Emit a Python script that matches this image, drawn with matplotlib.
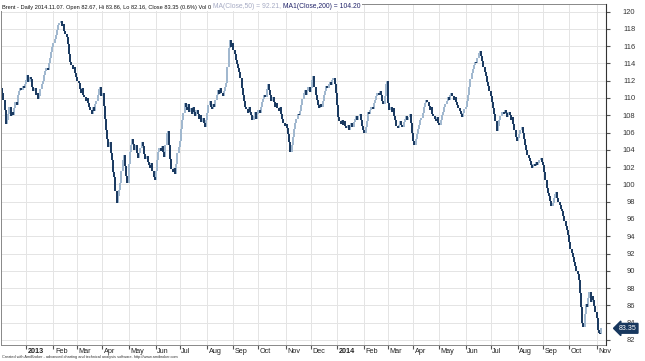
import numpy as np
import pandas as pd
import matplotlib
matplotlib.use("Agg")
import matplotlib.pyplot as plt

# daily closes, Dec 3 2012 - Dec 27 2013 (one row per week)
close_part1 = [
    111.2, 110.6, 109.8, 108.6, 107.0,
    107.4, 108.2, 108.9, 107.9, 108.4,
    108.0, 108.8, 109.5, 109.2, 110.3,
    110.8, 111.2, 110.9, 111.4, 111.1,
    111.6, 112.1, 112.6, 111.8, 112.4,
    112.2, 111.3, 110.8, 111.1, 110.4,
    110.6, 109.9, 110.2, 111.0, 111.6,
    112.0, 112.6, 113.1, 113.5, 113.2,
    114.0, 114.6, 115.3, 115.9, 116.4,
    116.8, 117.3, 117.9, 118.4, 118.7,
    118.9, 118.3, 118.6, 117.8, 117.4,
    117.0, 116.2, 115.1, 114.2, 113.8,
    113.3, 113.6, 112.9, 112.4, 112.0,
    111.7, 111.0, 110.6, 111.2, 110.4,
    110.1, 109.6, 110.0, 109.4, 108.9,
    108.6, 108.2, 109.0, 108.5, 109.3,
    109.7, 110.4, 111.0, 111.3, 110.2,
    110.6, 109.1, 107.6, 106.3, 105.2,
    104.3, 104.9, 103.6, 102.8, 101.4,
    100.8, 99.2, 97.8, 98.6, 99.4,
    100.2, 101.6, 102.8, 103.4, 102.1,
    101.0, 100.2, 102.4, 103.8, 104.6,
    105.2, 104.7, 104.0, 104.5, 103.6,
    103.1, 103.6, 104.2, 104.9, 104.4,
    103.5, 102.9, 103.3, 102.6, 102.2,
    101.9, 102.5, 101.6, 100.8, 100.5,
    101.6, 102.8, 103.7, 104.2, 103.9,
    104.4, 103.8, 103.2, 104.5, 105.9,
    106.2, 104.6, 102.9, 101.8, 101.4,
    101.9, 101.2, 102.4, 103.6, 104.3,
    105.0, 106.4, 107.5, 108.3, 109.4,
    109.0, 108.6, 109.3, 108.4, 108.8,
    108.2, 108.9, 108.4, 107.9, 108.6,
    108.1, 107.6, 108.0, 107.2, 107.7,
    107.1, 106.6, 107.4, 108.3, 109.2,
    109.6, 109.0, 108.7, 109.3, 108.9,
    109.8, 110.4, 110.9, 110.5, 111.1,
    110.6, 110.2, 110.8, 111.3, 111.7,
    113.6, 115.8, 116.7, 115.9, 116.4,
    115.6, 115.1, 114.4, 113.9, 113.5,
    113.0, 112.3, 111.2, 110.4, 109.6,
    109.0, 108.7, 108.3, 108.9, 108.4,
    108.0, 107.5, 107.9, 108.4, 107.6,
    108.1, 108.6, 108.3, 109.0, 109.5,
    109.9, 110.4, 110.1, 111.0, 111.6,
    110.9, 110.3, 109.7, 110.1, 109.5,
    109.0, 109.4, 108.8, 108.5, 108.9,
    108.2, 107.6, 107.1, 106.7, 107.0,
    106.5, 105.8, 104.9, 103.8, 104.6,
    105.5, 106.4, 107.1, 107.6, 108.2,
    108.0, 108.5, 109.2, 109.9, 110.6,
    110.9, 110.4, 110.8, 111.3, 110.7,
    111.2, 112.1, 112.5, 111.3, 110.4,
    109.8, 109.2, 108.8, 109.3, 108.9,
    109.6, 110.3, 110.8, 111.4, 111.1,
    111.6, 111.9, 111.5, 112.1, 112.3,
]

# daily closes, Dec 30 2013 - Nov 7 2014
close_part2 = [
    111.6, 110.6, 109.2, 107.8, 107.3,
    107.0, 107.4, 106.9, 107.3, 106.8,
    106.5, 106.9, 106.3, 106.7, 107.1,
    106.6, 107.2, 107.6, 107.9, 107.5,
    107.9, 108.2, 107.5, 106.8, 106.3,
    105.9, 106.6, 107.3, 108.4, 108.1,
    108.6, 109.0, 108.7, 109.4, 109.8,
    110.2, 110.6, 110.3, 110.8, 110.4,
    109.6, 109.3, 110.2, 111.6, 112.0,
    109.4, 108.6, 108.9, 108.4, 108.8,
    107.9, 107.4, 106.8, 106.5, 106.9,
    107.3, 106.9, 106.6, 107.2, 107.6,
    107.9, 107.4, 107.8, 108.2, 107.1,
    105.9, 105.0, 104.6, 105.3, 105.8,
    106.4, 106.9, 107.4, 107.7, 108.3,
    108.9, 109.4, 109.8, 109.5, 109.1,
    108.6, 108.9, 108.2, 107.9, 107.6,
    107.3, 107.8, 107.1, 106.9, 107.4,
    108.0, 108.4, 108.9, 109.3, 109.7,
    110.1, 109.8, 110.4, 110.6, 110.2,
    109.8, 110.1, 109.5, 109.2, 108.8,
    108.5, 108.1, 107.8, 108.3, 108.7,
    108.9, 109.6, 110.4, 111.3, 112.2,
    112.9, 113.4, 113.8, 114.2, 114.0,
    114.6, 115.2, 115.4, 114.8, 114.3,
    113.6, 113.0, 112.5, 111.9, 111.4,
    110.8, 110.2, 109.5, 108.8, 108.2,
    107.3, 106.2, 106.8, 107.4, 107.9,
    107.9, 108.4, 108.1, 108.6, 108.3,
    107.8, 108.4, 108.0, 107.5, 107.8,
    107.0, 106.3, 105.5, 105.0, 105.4,
    105.8, 106.3, 106.6, 105.9, 105.2,
    104.6, 104.0, 103.4, 103.0, 102.7,
    102.3, 101.9, 102.4, 102.1, 102.6,
    102.2, 102.5, 102.8, 103.1, 102.6,
    102.2, 101.4, 100.5, 99.6, 99.0,
    98.6, 98.1, 97.5, 97.9, 98.4,
    98.9, 99.1, 98.4, 98.0, 97.6,
    97.2, 96.9, 96.4, 95.8, 95.2,
    94.7, 94.1, 93.3, 92.5, 92.1,
    91.6, 91.0, 90.6, 90.0, 89.6,
    88.9, 87.4, 85.8, 84.0, 83.5,
    85.0, 86.2, 85.8, 86.9, 87.5,
    86.4, 87.1, 86.6, 85.9, 85.2,
    84.5, 83.1, 82.8, 82.67, 83.35,
]
first_open = 111.5

y_ticks = list(range(82, 121, 2))
month_names = ["2013", "Feb", "Mar", "Apr", "May", "Jun", "Jul", "Aug", "Sep", "Oct", "Nov", "Dec",
               "2014", "Feb", "Mar", "Apr", "May", "Jun", "Jul", "Aug", "Sep", "Oct", "Nov"]

closes = np.array(close_part1 + close_part2)
opens = np.concatenate([[first_open], closes[:-1]])
dates = pd.bdate_range("2012-12-03", periods=len(closes))
idx = np.arange(len(closes))

# first trading day of each month from Jan 2013
ser = pd.Series(idx, index=dates)
month_pos = ser.groupby([dates.year, dates.month]).first().values[1:]

fam = ["Liberation Sans Narrow", "Liberation Sans", "DejaVu Sans"]
dark = "#17375e"
light = "#9fb7ce"

fig = plt.figure(figsize=(6.45, 3.61), dpi=100)
ax = fig.add_axes([0.5 / 645, 1 - 345 / 361, 605 / 645, 341 / 361])

up = closes >= opens
ax.vlines(idx[up], opens[up], closes[up], colors=light, linewidth=1.4)
ax.vlines(idx[~up], opens[~up], closes[~up], colors=dark, linewidth=1.4)

ax.set_xlim(-0.5, 507.5)
ax.set_ylim(81.42, 120.87)

ax.set_yticks(y_ticks)
ax.yaxis.tick_right()
ax.tick_params(axis="y", length=3, color="#555555", pad=18.5, labelsize=5.4, labelcolor="#333333")
for lab in ax.get_yticklabels():
    lab.set_horizontalalignment("right")
    lab.set_family(fam)

ax.set_xticks(month_pos)
ax.set_xticklabels([])
ax.tick_params(axis="x", length=3, color="#555555", direction="out")
for p, name in zip(month_pos, month_names):
    ax.text(p + 1.2, -0.008, name, transform=ax.get_xaxis_transform(), ha="left", va="top",
            fontsize=5.2, family=fam, color="#222222",
            fontweight="bold" if name.startswith("20") else "normal")

ax.grid(True, color="#e4e4e4", linewidth=0.7)
ax.set_axisbelow(True)
for s in ["left", "top", "bottom"]:
    ax.spines[s].set_color("#888888")
    ax.spines[s].set_linewidth(0.7)
ax.spines["right"].set_color("#333333")
ax.spines["right"].set_linewidth(0.8)

# title line
box = dict(facecolor="white", edgecolor="none", pad=0.8)
t1 = ax.text(0.003, 0.997, "Brent - Daily 2014.11.07. Open 82.67, Hi 83.86, Lo 82.16, Close 83.35 (0.6%) Vol 0 ",
             transform=ax.transAxes, ha="left", va="top", fontsize=4.1, family=fam, color="#111111",
             bbox=box)
t2 = ax.annotate("MA(Close,50) = 92.21, ", xy=(1, 0), xycoords=t1, ha="left", va="bottom",
                 fontsize=4.9, family=fam, color="#a6abc4", bbox=box)
ax.annotate("MA1(Close,200) = 104.20", xy=(1, 0), xycoords=t2, ha="left", va="bottom",
            fontsize=4.9, family=fam, color="#22246a", bbox=box)

# last price marker
ax.text(1.022, closes[-1], "%.2f" % closes[-1], transform=ax.get_yaxis_transform(),
        ha="left", va="center", fontsize=5.0, family=fam, color="white",
        bbox=dict(boxstyle="larrow,pad=0.2", facecolor=dark, edgecolor=dark))

fig.text(2 / 645, 1 - 357 / 361, "Created with AmiBroker - advanced charting and technical analysis software. http://www.amibroker.com",
         ha="left", va="center", fontsize=2.8, family=fam, color="#333333")

fig.savefig("out.png", dpi=100)
